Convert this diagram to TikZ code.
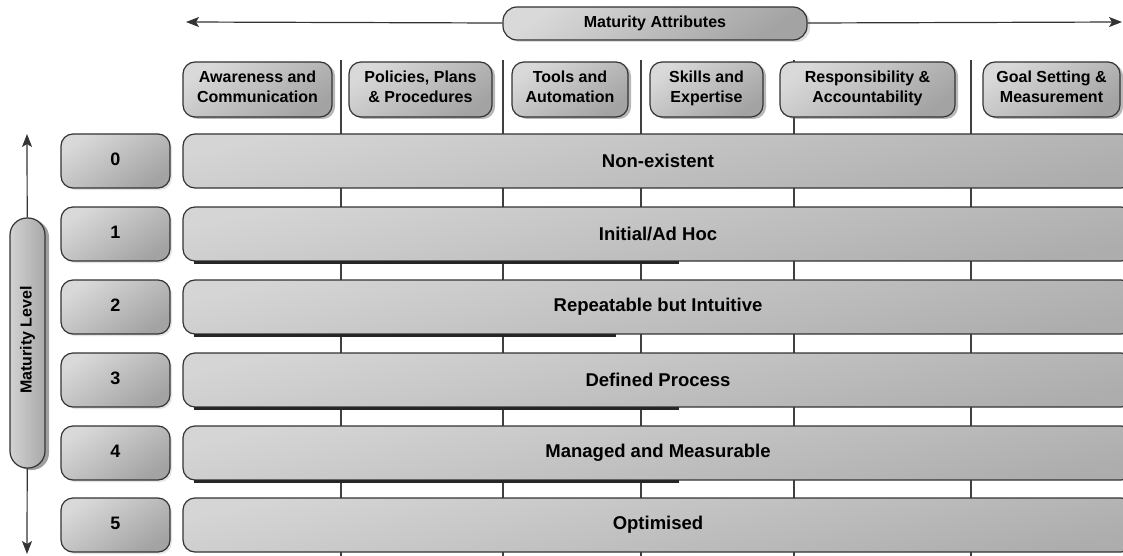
\documentclass[tikz,border=0pt]{standalone}
\usepackage{fontspec}
\setmainfont{Liberation Sans}
\usepackage{graphicx}
\usepackage{tikz}
\usetikzlibrary{arrows.meta,shapes,positioning,calc,shadows}

\begin{document}
\begin{tikzpicture}[x=1pt,y=-1pt,
    lab/.style={font=\bfseries\fontsize{16}{20}\selectfont, align=center, inner sep=0pt,
        execute at begin node=\strut, execute at end node=\strut},
    bevel/.style={draw=black!80, line width=1.2pt, rounded corners=12pt,
        top color=gray!30, bottom color=gray!72, shading angle=35},
    attr/.style={bevel, lab, minimum height=55pt,
        drop shadow={shadow xshift=3pt,shadow yshift=-2pt,fill=black!55}},
    lvl/.style={bevel, lab, font=\bfseries\fontsize{18}{20}\selectfont,
        execute at begin node=, execute at end node=,
        minimum width=109pt, minimum height=54pt,
        drop shadow={shadow xshift=2pt,shadow yshift=-2pt,fill=black!20}},
    bar/.style={draw=black!80, line width=1.2pt, rounded corners=12pt,
        top color=gray!33, bottom color=gray!64, shading angle=12,
        minimum width=950pt, minimum height=54pt, inner sep=0pt,
        font=\bfseries\fontsize{18.5}{20}\selectfont},
    arr/.style={line width=1.2pt, black!80, -{Stealth[length=13pt,width=10pt,inset=3pt]}},
    divider/.style={line width=1.3pt, black!75}]

    % 画布
    \fill[white] (0,0) rectangle (1123,556);
    \useasboundingbox (0,0) rectangle (1123,556);

    % 分隔竖线
    \foreach \x in {341,503,641,794,971} {
        \draw[divider] (\x,60) -- (\x,556);
    }

    % 横轴：成熟度属性
    \node[bevel, lab, rounded corners=14pt, minimum width=304pt, minimum height=33pt,
        drop shadow={shadow xshift=3pt,shadow yshift=-2pt,fill=black!25}]
        (mattr) at (655,23.5) {Maturity Attributes};
    \coordinate (atl) at (186,22);
    \coordinate (atr) at (1122,22);
    \draw[arr] (mattr) -- (atl);
    \draw[arr] (mattr) -- (atr);

    % 属性
    \foreach \n/\x/\w/\t in {
        1/257.5/149/{Awareness and\\Communication},
        2/420.5/143/{Policies, Plans\\\& Procedures},
        3/570/116/{Tools and\\Automation},
        4/706.5/113/{Skills and\\Expertise},
        5/867.5/175/{Responsibility \&\\Accountability},
        6/1051.5/137/{Goal Setting \&\\Measurement}} {
        \node[attr, minimum width=\w pt] (A\n) at (\x,89.5) {\t};
    }

    % 等级与描述
    \foreach \i/\y/\t in {
        0/161/Non-existent,
        1/234/{Initial/Ad Hoc},
        2/307/Repeatable but Intuitive,
        3/380/Defined Process,
        4/453/Managed and Measurable,
        5/525/Optimised} {
        \node[lvl] (L\i) at (115.5,\y) {\i};
        \node[bar] (B\i) at (658,\y) {\t};
    }

    % 条形下沿的阴影
    \foreach \i/\e in {1/680,2/617,3/680,4/680} {
        \draw[line width=3pt, black!85] ([xshift=12pt,yshift=-0.5pt]B\i.south west) -- ++(\e-195,0);
    }

    % 纵轴：成熟度等级
    \node[bevel, lab, rounded corners=17pt, minimum width=35pt, minimum height=250pt,
        top color=gray!35, bottom color=gray!68, shading angle=90,
        drop shadow={shadow xshift=4pt,shadow yshift=-2pt,fill=black!75}]
        (mlev) at (27.5,343) {\rotatebox{90}{Maturity Level}};
    \coordinate (lvt) at (27,134);
    \coordinate (lvb) at (27,554);
    \draw[arr] (mlev) -- (lvt);
    \draw[arr] (mlev) -- (lvb);
\end{tikzpicture}
\end{document}
